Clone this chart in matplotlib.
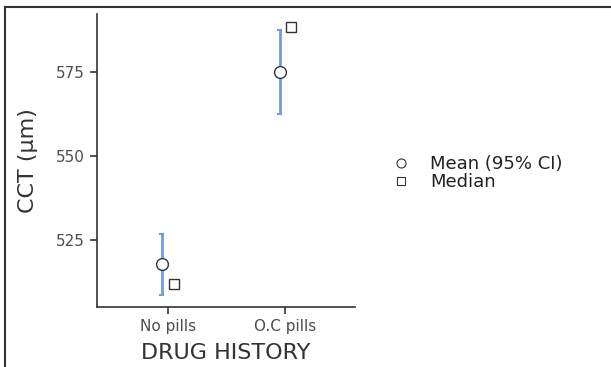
import matplotlib
matplotlib.use("Agg")
import matplotlib.pyplot as plt
from matplotlib.lines import Line2D

categories = ["No pills", "O.C pills"]
means = [517.9, 575.0]
ci_low = [508.7, 562.6]
ci_high = [526.7, 587.4]
medians = [511.8, 588.4]
yticks = [525, 550, 575]

plt.rcParams['font.family'] = ['DejaVu Sans']

W, H = 611, 367
fig = plt.figure(figsize=(W/100, H/100), dpi=100)
ax = fig.add_axes([97/W, 1-307/H, (355-97)/W, (307-14)/H])

xs = list(range(1, len(categories)+1))
off = 0.05
xm = [x - off for x in xs]
xmed = [x + off for x in xs]

blue = '#6f9be8'
for x, lo, hi in zip(xm, ci_low, ci_high):
    ax.plot([x, x], [lo, hi], color=blue, lw=2, solid_capstyle='butt', zorder=2)
    ax.plot([x-0.012, x+0.012], [lo, lo], color=blue, lw=1.5, zorder=2)
    ax.plot([x-0.012, x+0.012], [hi, hi], color=blue, lw=1.5, zorder=2)
ax.plot(xm, means, 'o', ms=8.5, mfc='white', mec='#333333', mew=1, ls='none', zorder=3)
ax.plot(xmed, medians, 's', ms=7, mfc='white', mec='#333333', mew=1, ls='none', zorder=3)

ax.set_xlim(0.4, 2.59)
ax.set_ylim(505.1, 592.2)
ax.set_xticks(xs)
ax.set_xticklabels(categories)
ax.set_yticks(yticks)
for s in ['top', 'right']:
    ax.spines[s].set_visible(False)
for s in ['left', 'bottom']:
    ax.spines[s].set_color('#333333')
    ax.spines[s].set_linewidth(1.2)
ax.tick_params(colors='#333333', labelcolor='#4d4d4d', labelsize=11, length=5, width=1.2, pad=4)
ax.set_xlabel('DRUG HISTORY', fontsize=16, color='#333333', labelpad=6)
ax.set_ylabel('CCT (µm)', fontsize=16, color='#333333', labelpad=13)

handles = [Line2D([], [], marker='o', ls='none', mfc='white', mec='#333333', ms=6.5, mew=0.8),
           Line2D([], [], marker='s', ls='none', mfc='white', mec='#333333', ms=5.5, mew=0.8)]
fig.legend(handles, ['Mean (95% CI)', 'Median'], loc='center left',
           bbox_to_anchor=(394/W, 1-173/H), frameon=False, fontsize=13,
           handletextpad=1.2, labelspacing=0.0, handlelength=0.8,
           labelcolor='#222222', borderaxespad=0, borderpad=0)

# screenshot border
fig.add_artist(Line2D([5/W, 1], [1-7/H, 1-7/H], color='#333333', lw=1.5))
fig.add_artist(Line2D([5/W, 5/W], [0, 1-7/H], color='#333333', lw=1.5))

fig.savefig('out.png', dpi=100)
